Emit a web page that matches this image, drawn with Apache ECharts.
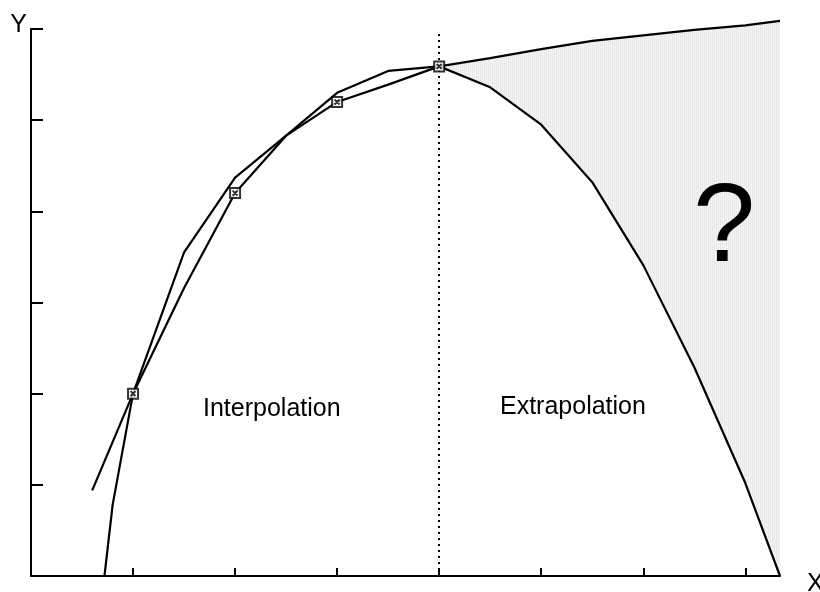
<!DOCTYPE html>
<html>
<head>
<meta charset="utf-8">
<script src="https://cdn.jsdelivr.net/npm/echarts@6/dist/echarts.min.js"></script>
<style>
html, body { margin: 0; padding: 0; background: #fff; }
#main { width: 820px; height: 592px; }
</style>
</head>
<body>
<div id="main"></div>
<script>
var xTicks = [1, 2, 3, 4, 5, 6, 7];
var yTicks = [0, 1, 2, 3, 4, 5, 6];

// polynomial fit - good inside the samples, falls away outside
var fitX = [0.72, 0.8, 1, 1.5, 2, 2.5, 3, 3.5, 4, 4.5, 5, 5.5, 6, 6.5, 7, 7.34];
var fitY = [0, 0.78, 2.0, 3.55, 4.37, 4.83, 5.30, 5.54, 5.59, 5.36, 4.95, 4.32, 3.41, 2.29, 1.02, 0];

// the "real" curve behind the samples
var trueX = [0.6, 1, 1.5, 2, 2.5, 3, 3.5, 4, 4.5, 5, 5.5, 6, 6.5, 7, 7.34];
var trueY = [0.94, 2.0, 3.16, 4.2, 4.83, 5.2, 5.39, 5.59, 5.68, 5.78, 5.87, 5.93, 5.99, 6.04, 6.09];

// measured samples
var sampleX = [1, 2, 3, 4];
var sampleY = [2.0, 4.2, 5.2, 5.59];

var splitX = 4;      // last sample, border between the two regions
var splitTop = 5.95;

function pairs(xs, ys) {
    return xs.map(function (x, i) { return [x, ys[i]]; });
}
function rightOf(xs, ys) {
    return pairs(xs, ys).filter(function (p) { return p[0] >= splitX; });
}

// fine vertical hatch for the "?" area
var pat = document.createElement('canvas');
pat.width = 2; pat.height = 2;
var pc = pat.getContext('2d');
pc.fillStyle = '#f3f3f3'; pc.fillRect(0, 0, 2, 2);
pc.fillStyle = '#e9e9e9'; pc.fillRect(0, 0, 1, 2);

var font = '"Liberation Sans", Arial, sans-serif';

option = {
    animation: false,
    backgroundColor: '#fff',
    grid: { left: 31, right: 40, top: 29, bottom: 16, outerBoundsMode: 'none', containLabel: false },
    xAxis: {
        type: 'value',
        min: 0,
        max: 7.34,
        z: 10,
        name: 'X',
        nameLocation: 'end',
        nameGap: 27,
        nameTextStyle: { fontSize: 25, color: '#000', fontFamily: font, align: 'left', verticalAlign: 'top', padding: [-4, 0, 0, 0] },
        axisLine: { lineStyle: { color: '#000', width: 2 } },
        axisTick: { inside: true, length: 8, customValues: xTicks, lineStyle: { color: '#000', width: 2 } },
        axisLabel: { show: false },
        splitLine: { show: false }
    },
    yAxis: {
        type: 'value',
        min: 0,
        max: 6,
        interval: 1,
        z: 10,
        name: 'Y',
        nameLocation: 'end',
        nameGap: 0,
        nameTextStyle: { fontSize: 25, color: '#000', fontFamily: font, align: 'right', verticalAlign: 'bottom', padding: [0, 4, -9, 0] },
        axisLine: { lineStyle: { color: '#000', width: 2 } },
        axisTick: { inside: true, length: 12, customValues: yTicks, lineStyle: { color: '#000', width: 2 } },
        axisLabel: { show: false },
        splitLine: { show: false }
    },
    graphic: [
        { type: 'text', z: 100, left: 203, top: 397, style: { text: 'Interpolation', fontSize: 25, fontFamily: font, fill: '#000' } },
        { type: 'text', z: 100, left: 500, top: 395, style: { text: 'Extrapolation', fontSize: 25, fontFamily: font, fill: '#000' } },
        { type: 'text', z: 100, left: 693, top: 174, style: { text: '?', fontSize: 112, fontFamily: font, fill: '#000' } }
    ],
    series: [
        {
            // grey from the upper curve down to the axis
            type: 'line', data: rightOf(trueX, trueY), symbol: 'none', clip: false,
            lineStyle: { opacity: 0 }, z: 1, silent: true,
            areaStyle: { color: { image: pat, repeat: 'repeat' }, opacity: 1 }
        },
        {
            // white under the fitted curve, leaves only the gap grey
            type: 'line', data: rightOf(fitX, fitY), symbol: 'none',
            lineStyle: { opacity: 0 }, z: 1, silent: true,
            areaStyle: { color: '#fff', opacity: 1 }
        },
        {
            name: 'fit', type: 'line', data: pairs(fitX, fitY), symbol: 'none', clip: false,
            lineStyle: { color: '#000', width: 2.2 }, z: 3,
            markLine: {
                silent: true, symbol: 'none', label: { show: false },
                lineStyle: { color: '#000', width: 2, type: [2, 4] },
                data: [[{ coord: [splitX, 0] }, { coord: [splitX, splitTop] }]]
            }
        },
        {
            name: 'true', type: 'line', data: pairs(trueX, trueY), symbol: 'none', clip: false,
            lineStyle: { color: '#000', width: 2.2 }, z: 3
        },
        {
            name: 'samples', type: 'scatter', data: pairs(sampleX, sampleY), z: 5,
            symbol: 'path://M0,0H10V10H0Z M2.5,2.5L7.5,7.5 M7.5,2.5L2.5,7.5',
            symbolSize: 10,
            itemStyle: { color: '#fff', borderColor: '#000', borderWidth: 2 }
        }
    ]
};

var myChart = echarts.init(document.getElementById('main'));
myChart.setOption(option);
</script>
</body>
</html>
